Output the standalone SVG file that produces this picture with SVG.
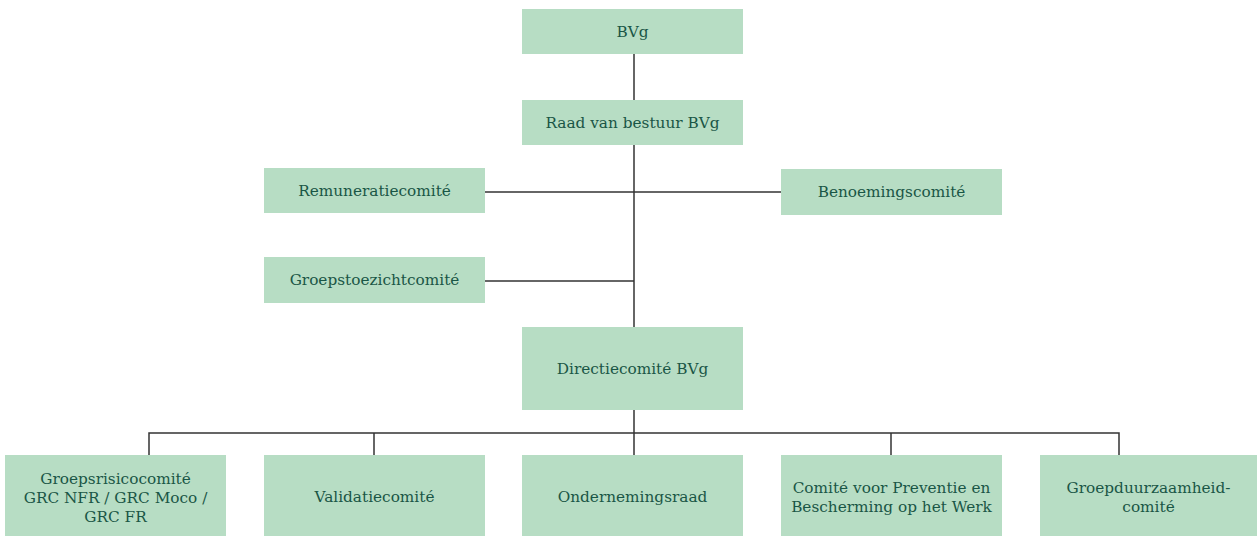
<svg xmlns="http://www.w3.org/2000/svg" width="1257" height="536" viewBox="0 0 1257 536">
<style>
.box{fill:#b7ddc4}
.t{font-family:"DejaVu Serif","Liberation Serif",serif;font-size:15.3px;fill:#1a5646;text-anchor:middle;dominant-baseline:central}
.c{stroke:#333;stroke-width:1.5;fill:none}
</style>
<rect width="1257" height="536" fill="#fff"/>
<g id="connectors">
<path class="c" d="M634 54V327"/>
<path class="c" d="M485 192H781"/>
<path class="c" d="M485 281H634"/>
<path class="c" d="M634 410V455"/>
<path class="c" d="M149 455V433H1119V455"/>
<path class="c" d="M374 433V455"/>
<path class="c" d="M891 433V455"/>
</g>
<g id="bvg"><rect class="box" x="522" y="9" width="221" height="45"/><text class="t" x="632.5" y="32">BVg</text></g>
<g id="raad"><rect class="box" x="522" y="100" width="221" height="45"/><text class="t" x="632.5" y="123">Raad van bestuur BVg</text></g>
<g id="remuneratie"><rect class="box" x="264" y="168" width="221" height="45"/><text class="t" x="374.5" y="191">Remuneratiecomité</text></g>
<g id="benoeming"><rect class="box" x="781" y="169" width="221" height="46"/><text class="t" x="891.5" y="192">Benoemingscomité</text></g>
<g id="groepstoezicht"><rect class="box" x="264" y="257" width="221" height="46"/><text class="t" x="374.5" y="280">Groepstoezichtcomité</text></g>
<g id="directie"><rect class="box" x="522" y="327" width="221" height="83"/><text class="t" x="632.5" y="369">Directiecomité BVg</text></g>
<g id="groepsrisico"><rect class="box" x="5" y="455" width="221" height="81"/><text class="t" x="115.5" y="479">Groepsrisicocomité</text><text class="t" x="115.5" y="498">GRC NFR / GRC Moco /</text><text class="t" x="115.5" y="517">GRC FR</text></g>
<g id="validatie"><rect class="box" x="264" y="455" width="221" height="81"/><text class="t" x="374.5" y="497">Validatiecomité</text></g>
<g id="ondernemingsraad"><rect class="box" x="522" y="455" width="221" height="81"/><text class="t" x="632.5" y="497">Ondernemingsraad</text></g>
<g id="preventie"><rect class="box" x="781" y="455" width="221" height="81"/><text class="t" x="891.5" y="488">Comité voor Preventie en</text><text class="t" x="891.5" y="507">Bescherming op het Werk</text></g>
<g id="duurzaamheid"><rect class="box" x="1040" y="455" width="217" height="81"/><text class="t" x="1148.5" y="488">Groepduurzaamheid-</text><text class="t" x="1148.5" y="507">comité</text></g>
</svg>
